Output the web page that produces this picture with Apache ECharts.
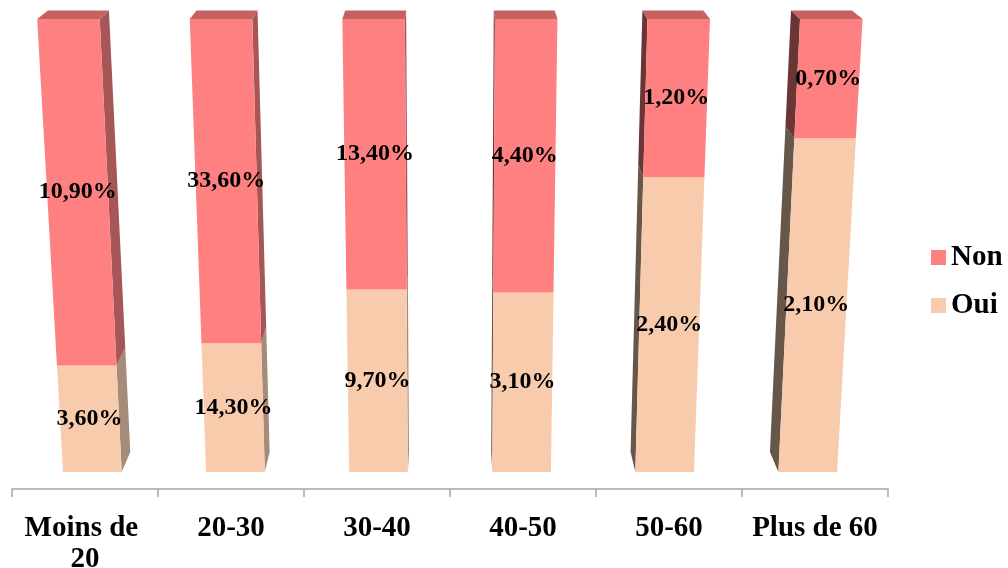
<!DOCTYPE html>
<html>
<head>
<meta charset="utf-8">
<script src="https://cdn.jsdelivr.net/npm/echarts@6/dist/echarts.min.js"></script>
<style>
  html, body { margin: 0; padding: 0; background: #ffffff; }
  #chart { width: 1008px; height: 568px; }
</style>
</head>
<body>
<div id="chart"></div>
<script>
const categories = ['Moins de 20', '20-30', '30-40', '40-50', '50-60', 'Plus de 60'];
const ouiValues = [3.6, 14.3, 9.7, 3.1, 2.4, 2.1];
const nonValues = [10.9, 33.6, 13.4, 4.4, 1.2, 0.7];
const seriesNames = ['Non', 'Oui'];

// 100% stacked columns: each column is split by the share of Oui and Non
const totals = categories.map((_, i) => ouiValues[i] + nonValues[i]);
const ouiShare = ouiValues.map((v, i) => v / totals[i] * 100);
const ouiData = categories.map((_, i) => [i, 0, ouiShare[i], ouiValues[i]]);
const nonData = categories.map((_, i) => [i, ouiShare[i], 100, nonValues[i]]);

const palette = {
  Non: { front: '#ff8080', top: '#c46262', right: '#a65656', left: '#6b3535' },
  Oui: { front: '#f8cbad', top: '#d4ad93', right: '#a58b79', left: '#67574b' }
};

const serif = '"Liberation Serif", "Times New Roman", serif';
const fmt = v => v.toFixed(2).replace('.', ',') + '%';

// Columns drawn as boxes seen in perspective: the front face widens towards
// the top, and the depth edges recede towards the middle of the plot.
function makeRenderer(name) {
  const c = palette[name];
  return function (params, api) {
    const cs = params.coordSys;
    const cx = cs.x + cs.width / 2 + 2.5;
    const yTop = cs.y, H = cs.height;
    const persp = 0.0732;
    const project = (u, v, back) => {
      let t = (v - yTop) / H;
      t = t * (1 + persp) / (1 + persp * t);
      const y = yTop + t * H;
      const s = 1.045 - 0.065 * t;
      const x = cx + (u - cx) * s;
      if (back) {
        return [x - (x - cx) * 0.026, y - 8.5 - 11.5 * t];
      }
      return [x, y];
    };

    const idx = api.value(0);
    const start = api.value(1);
    const end = api.value(2);
    const raw = api.value(3);
    const pBot = api.coord([idx, start]);
    const pTop = api.coord([idx, end]);
    const band = api.size([1, 0])[0];
    const w = band * 0.41;
    const uL = pBot[0] - w / 2, uR = pBot[0] + w / 2;
    const vB = pBot[1], vT = pTop[1];

    const fTL = project(uL, vT), fTR = project(uR, vT);
    const fBL = project(uL, vB), fBR = project(uR, vB);
    const midV = (vT + vB) / 2;
    const mL = project(uL, midV), mR = project(uR, midV);
    const frontCenter = (mL[0] + mR[0]) / 2;

    const children = [];
    if (frontCenter < cx) {
      children.push({
        type: 'polygon',
        shape: { points: [fTR, project(uR, vT, true), project(uR, vB, true), fBR] },
        style: { fill: c.right }
      });
    } else {
      children.push({
        type: 'polygon',
        shape: { points: [fTL, project(uL, vT, true), project(uL, vB, true), fBL] },
        style: { fill: c.left }
      });
    }
    if (end >= 100) {
      children.push({
        type: 'polygon',
        shape: { points: [fTL, fTR, project(uR, vT, true), project(uL, vT, true)] },
        style: { fill: c.top }
      });
    }
    children.push({
      type: 'polygon',
      shape: { points: [fTL, fTR, fBR, fBL] },
      style: { fill: c.front }
    });
    const lblY = (fTL[1] + fBL[1]) / 2;
    children.push({
      type: 'text',
      z2: 10,
      style: {
        text: fmt(raw),
        x: frontCenter,
        y: lblY,
        align: 'center',
        verticalAlign: 'middle',
        textAlign: 'center',
        textVerticalAlign: 'middle',
        font: 'bold 24px ' + serif,
        fill: '#000000'
      }
    });
    return { type: 'group', children: children };
  };
}

const chart = echarts.init(document.getElementById('chart'), null, { renderer: 'canvas' });
chart.setOption({
  animation: false,
  backgroundColor: '#ffffff',
  grid: { left: 12, right: 120, top: 19, bottom: 96, containLabel: false, outerBoundsMode: 'none' },
  legend: {
    data: seriesNames,
    orient: 'vertical',
    left: 931,
    top: 243,
    padding: 0,
    icon: 'rect',
    itemWidth: 15,
    itemHeight: 15,
    itemGap: 19,
    textStyle: {
      fontFamily: serif,
      fontWeight: 'bold',
      fontSize: 29,
      lineHeight: 29,
      color: '#000000'
    }
  },
  xAxis: {
    type: 'category',
    data: categories,
    position: 'bottom',
    offset: 17,
    axisLine: { onZero: false, lineStyle: { color: '#a6a6a6', width: 1.5 } },
    axisTick: { show: true, length: 8, lineStyle: { color: '#a6a6a6', width: 1.5 } },
    axisLabel: {
      interval: 0,
      margin: 24,
      width: 140,
      overflow: 'break',
      lineHeight: 31,
      fontFamily: serif,
      fontWeight: 'bold',
      fontSize: 29,
      color: '#000000'
    },
    splitLine: { show: false }
  },
  yAxis: { type: 'value', min: 0, max: 100, show: false },
  series: [
    {
      name: 'Oui',
      type: 'custom',
      renderItem: makeRenderer('Oui'),
      itemStyle: { color: palette.Oui.front },
      encode: { x: 0, y: [1, 2] },
      data: ouiData
    },
    {
      name: 'Non',
      type: 'custom',
      renderItem: makeRenderer('Non'),
      itemStyle: { color: palette.Non.front },
      encode: { x: 0, y: [1, 2] },
      data: nonData
    }
  ]
});
</script>
</body>
</html>
